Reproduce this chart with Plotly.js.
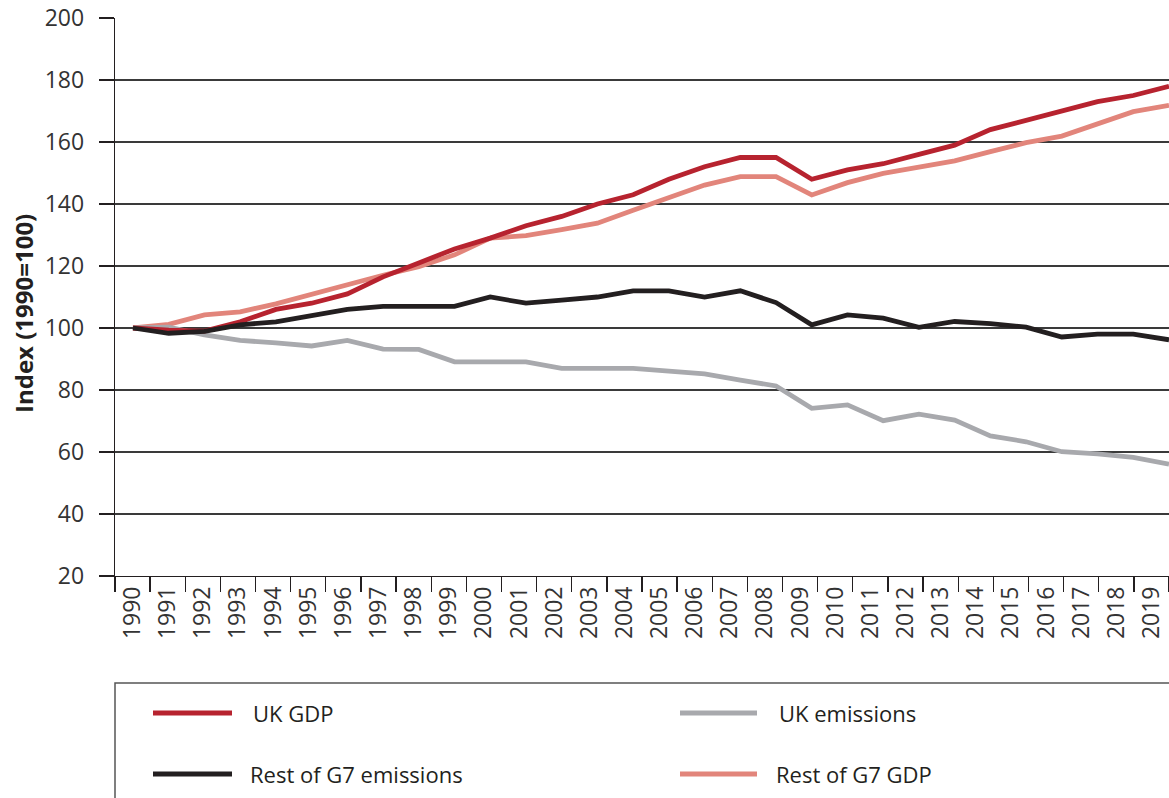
<!DOCTYPE html>
<html>
<head>
<meta charset="utf-8">
<script src="https://cdn.plot.ly/plotly-3.0.1.min.js"></script>
<style>html,body{margin:0;padding:0;background:#fff;}#chart{width:1169px;height:798px;}</style>
</head>
<body>
<div id="chart"></div>
<script>
const years = [1990,1991,1992,1993,1994,1995,1996,1997,1998,1999,2000,2001,2002,2003,2004,2005,2006,2007,2008,2009,2010,2011,2012,2013,2014,2015,2016,2017,2018,2019];
const yearLabels = years.map(String);

const ukGdp = [100,99.3,99,102,106,108,111,116.5,121,125.5,129,133,136,140,143,148,152,155,155,148,151,153,156,159,164,167,170,173,175,178];
const ukEmissions = [100,100.3,97.8,96,95.2,94.2,96,93.2,93.1,89.1,89.1,89.1,87,87,87,86.1,85.2,83.2,81.3,74.1,75.2,70.1,72.2,70.3,65.2,63.3,60.1,59.4,58.3,56.1];
const restG7Emissions = [100,98.3,98.9,101,102,104,106,107,107,107,110,108,109,110,112,112,110,112,108.2,101,104.2,103.2,100.2,102.1,101.4,100.3,97.1,98,98,96.2];
const restG7Gdp = [100,101.2,104.2,105.2,107.8,111,114,117,119.8,123.6,129,129.8,131.7,133.8,138,142.2,146.1,148.8,148.8,142.9,146.9,149.9,152,153.9,156.9,159.8,161.9,165.8,169.8,171.8];

const seriesNames = ["UK GDP","UK emissions","Rest of G7 emissions","Rest of G7 GDP"];
const seriesColors = ["#B7232F","#A8A9AD","#231F20","#E2857B"];
const seriesData = [ukGdp, ukEmissions, restG7Emissions, restG7Gdp];
const drawOrder = [3,1,0,2];
const yTitle = 'Index (1990=100)';

const W = 1169, H = 798;
const L = 115, R = 0, T = 18, B = 222;
const plotW = W - L - R, plotH = H - T - B;
const px = x => (x - L) / plotW;
const py = y => (H - B - y) / plotH;

const font = "'Open Sans', 'Noto Sans', sans-serif";
const ink = "#231F20";

const traces = [];
// invisible helper trace so the category axis knows its labels
traces.push({x: yearLabels, y: yearLabels.map(() => null), xaxis: 'x', yaxis: 'y', mode: 'lines', showlegend: false, hoverinfo: 'skip'});
drawOrder.forEach(i => {
  traces.push({
    x: years, y: seriesData[i], name: seriesNames[i],
    xaxis: 'x2', yaxis: 'y', mode: 'lines', showlegend: false,
    line: {color: seriesColors[i], width: 4.8}
  });
});

const shapes = [];
const annotations = [];
// y-axis title
annotations.push({xref: 'paper', yref: 'paper', x: px(23), y: py(314), xanchor: 'center', yanchor: 'middle', textangle: -90, text: '<b>' + yTitle + '</b>', showarrow: false, font: {family: font, size: 24, color: ink}});
// legend frame
shapes.push({type: 'rect', xref: 'paper', yref: 'paper', x0: px(115), x1: px(1200), y0: py(683), y1: py(830), line: {color: '#555', width: 1.5}, fillcolor: 'rgba(0,0,0,0)'});
const legendPos = [
  {lx0: 153, lx1: 232, ly: 713, tx: 251},
  {lx0: 680, lx1: 757, ly: 713, tx: 777},
  {lx0: 153, lx1: 232, ly: 774, tx: 248},
  {lx0: 680, lx1: 757, ly: 774, tx: 774}
];
seriesNames.forEach((n, i) => {
  const p = legendPos[i];
  shapes.push({type: 'line', xref: 'paper', yref: 'paper', x0: px(p.lx0), x1: px(p.lx1), y0: py(p.ly), y1: py(p.ly), line: {color: seriesColors[i], width: 5}});
  annotations.push({xref: 'paper', yref: 'paper', x: px(p.tx), y: py(p.ly), xanchor: 'left', yanchor: 'middle', text: n, showarrow: false, font: {family: font, size: 22, color: ink}});
});

const layout = {
  width: W, height: H,
  margin: {l: L, r: R, t: T, b: B, pad: 0},
  paper_bgcolor: '#fff', plot_bgcolor: '#fff',
  showlegend: false,
  font: {family: font, color: ink},
  xaxis: {
    type: 'category', range: [-0.5, 29.5], fixedrange: true,
    tickson: 'boundaries', ticks: 'outside', ticklen: 15, tickwidth: 1.3, tickcolor: ink,
    tickangle: -90, tickfont: {family: font, size: 23, color: '#333'},
    showline: true, linecolor: ink, linewidth: 1.3, showgrid: false, zeroline: false
  },
  xaxis2: {
    type: 'linear', overlaying: 'x', anchor: 'y', range: [1990 - 18/35.72, 2019],
    visible: false, fixedrange: true
  },
  yaxis: {
    range: [20, 200], dtick: 20, tick0: 20, fixedrange: true,
    ticks: 'outside', ticklen: 15, tickwidth: 1.3, tickcolor: ink,
    tickfont: {family: font, size: 23, color: '#333'},
    ticklabelposition: 'outside', ticklabelstandoff: 10,
    showline: true, linecolor: ink, linewidth: 1.3,
    showgrid: true, gridcolor: '#3a3a3a', gridwidth: 1.3, zeroline: false
  },
  shapes: shapes,
  annotations: annotations
};

Plotly.newPlot('chart', traces, layout, {displayModeBar: false, staticPlot: true});
</script>
</body>
</html>
